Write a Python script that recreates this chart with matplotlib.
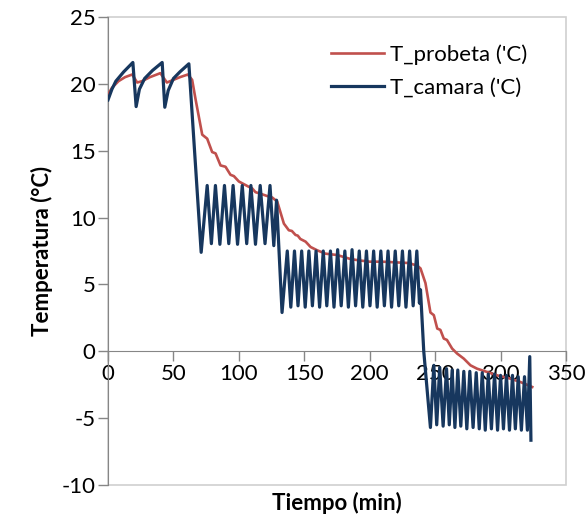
import matplotlib
matplotlib.use("Agg")
import matplotlib.pyplot as plt
from matplotlib.patches import Rectangle

# ---- data ----
# T_camara: key points (time in min, temperature in C)
camara_t = [0, 3, 6, 12, 19, 21.5, 24, 28, 34, 41.4, 43.4, 46, 50, 55, 61.8,
            71.2, 75.8, 79, 82.1, 85.5, 89, 92.3, 95.6, 99, 102.6, 106, 109.2, 112.7,
            116.3, 120, 123.8, 126.7, 128.8, 133,
            137, 139.7, 142.5, 145.2, 148, 150.7, 153.5, 156.2, 159, 161.7, 164.5,
            167.2, 170, 172.7, 175.5, 178.2, 181, 183.7, 186.5, 189.2, 192, 194.7,
            197.5, 200.2, 203, 205.7, 208.5, 211.2, 214, 216.7, 219.5, 222.2, 225,
            227.7, 230.5, 233.2, 236, 238, 238.8, 241.3, 246.4,
            249, 251.2, 253.5, 256.1, 258.7, 260.8, 263, 265.1, 267.3, 269.6, 271.9,
            274.2, 276.5, 279, 281.4, 283.7, 286, 288.3, 290.6, 293, 295.4, 297.7,
            300, 302.2, 304.5, 306.8, 309.1, 311.3, 313.5, 315.9, 318.3, 320.5,
            322.3, 323.2]
camara_T = [18.8, 19.6, 20.2, 20.9, 21.6, 18.3, 19.6, 20.4, 21.0, 21.6, 18.25,
            19.5, 20.4, 20.9, 21.5,
            7.4, 12.4, 8.05, 12.4, 8.0, 12.4, 8.05, 12.4, 8.0, 12.4, 8.05, 12.4, 8.0,
            12.4, 8.05, 12.4, 7.9, 11.3, 2.9,
            7.5, 3.3, 7.5, 3.4, 7.5, 3.3, 7.5, 3.4, 7.5, 3.3, 7.5,
            3.4, 7.5, 3.3, 7.6, 3.4, 7.5, 3.3, 7.6, 3.4, 7.5, 3.3,
            7.5, 3.4, 7.5, 3.3, 7.5, 3.4, 7.5, 3.3, 7.5, 3.4, 7.5,
            3.3, 7.5, 3.4, 7.5, 3.6, 4.6, 0.0, -5.7,
            -1.05, -5.5, -1.2, -5.6, -1.3, -5.5, -1.4, -5.7, -1.4, -5.6, -1.5,
            -5.8, -1.5, -5.7, -1.6, -5.8, -1.6, -5.9, -1.7, -5.8, -1.7, -5.9,
            -1.8, -5.8, -1.8, -5.9, -1.8, -5.8, -1.9, -5.9, -1.9, -5.9,
            -0.4, -6.65]

# T_probeta: key points
probeta_t = [0, 3, 8, 13, 18.5, 22.3, 26, 32, 40, 45, 50, 55, 61, 64.3, 67, 72,
             75.8, 79.6, 82.2, 86, 89.8, 93.6, 96.2, 100, 103.8, 107.6, 110, 112.7,
             116, 119, 122, 125.5, 129.3, 134.4, 138.2, 140.5, 143.3, 145, 147, 151,
             154.8, 159.9, 166.2, 175.1, 185.3, 191.7, 200, 210, 220, 230, 236.3,
             238.8, 242.6, 246.4, 249, 251.6, 254, 256.6, 259, 263, 266.8, 271.9,
             277, 282, 289.8, 297.4, 307.6, 315.2, 324.2]
probeta_T = [19.2, 19.7, 20.2, 20.5, 20.7, 20.1, 20.2, 20.5, 20.8, 20.1, 20.3,
             20.5, 20.7, 20.3, 18.8, 16.2, 15.9, 14.9, 14.8, 13.9, 13.8, 13.2, 13.1,
             12.7, 12.5, 12.3, 12.2, 11.9, 11.8, 11.7, 11.6, 11.5, 11.2, 9.55, 9.05,
             9.0, 8.7, 8.65, 8.4, 8.2, 7.8, 7.55, 7.3, 7.2, 6.9, 6.8, 6.7, 6.7, 6.65,
             6.6, 6.4, 6.2, 5.1, 2.9, 2.7, 1.7, 1.6, 0.95, 0.85, 0.2, -0.17, -0.55,
             -1.05, -1.3, -1.55, -1.8, -2.05, -2.3, -2.67]

x_ticks = [0, 50, 100, 150, 200, 250, 300, 350]
y_ticks = [-10, -5, 0, 5, 10, 15, 20, 25]
label_probeta = "T_probeta ('C)"
label_camara = "T_camara ('C)"

# ---- figure ----
plt.rcParams['font.family'] = ['Lato', 'DejaVu Sans']
plt.rcParams['axes.unicode_minus'] = False
W, H = 588, 522
fig = plt.figure(figsize=(W / 100, H / 100), dpi=100)
ax = fig.add_axes([108 / W, 1 - 485 / H, (566 - 108) / W, (485 - 17) / H])

ax.plot(probeta_t, probeta_T, color='#C0504D', lw=1.9, label=label_probeta,
        solid_joinstyle='round', zorder=3)
ax.plot(camara_t, camara_T, color='#17375E', lw=2.3, label=label_camara,
        solid_joinstyle='round', zorder=4)

ax.set_xlim(0, 350)
ax.set_ylim(-10, 25)
ax.set_xticks(x_ticks)
ax.set_yticks(y_ticks)
ax.tick_params(axis='both', labelsize=16, direction='out', length=7,
               width=1, color='#868686', pad=2)

for s in ['top', 'right']:
    ax.spines[s].set_visible(False)
ax.spines['bottom'].set_position(('data', 0))
ax.spines['bottom'].set_color('#868686')
ax.spines['left'].set_color('#868686')
ax.add_patch(Rectangle((0, 0), 1, 1, transform=ax.transAxes, fill=False,
                       edgecolor='#D0D0D0', lw=1.2, zorder=0, clip_on=False))

ax.set_ylabel('Temperatura (°C)', fontsize=16, fontweight='bold', labelpad=6)
fig.text((108 + 566) / 2 / W, 1 - 503 / H, 'Tiempo (min)', fontsize=16,
         fontweight='bold', ha='center', va='center')

leg = ax.legend(loc='upper left', bbox_to_anchor=(320 / W, 1 - 33 / H),
                bbox_transform=fig.transFigure, frameon=False, fontsize=16,
                handlelength=2.4, handletextpad=0.25, labelspacing=0.6,
                borderpad=0)

fig.savefig('out.png', dpi=100)
